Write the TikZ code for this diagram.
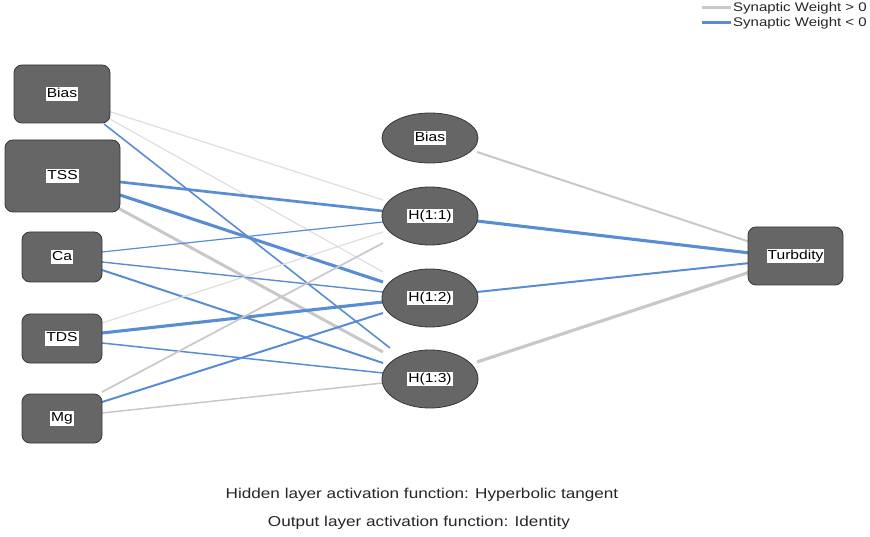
\documentclass[tikz,border=0pt]{standalone}
\usepackage{fontspec}
\setmainfont{Liberation Sans}[FakeStretch=1.2]
\usetikzlibrary{shapes.geometric,calc,backgrounds}
\definecolor{nodefill}{RGB}{102,102,102}
\definecolor{nodeline}{RGB}{55,55,55}
\definecolor{posw}{RGB}{200,200,200}
\definecolor{poswl}{RGB}{222,222,222}
\definecolor{negw}{RGB}{88,140,212}
\newcommand{\wlab}[1]{{\setlength{\fboxsep}{1pt}\colorbox{white}{\vphantom{Hy(}#1}}}
\tikzset{
  inbox/.style={draw=nodeline, fill=nodefill, line width=0.8pt, rounded corners=8pt, inner sep=0pt, font=\fontsize{13}{14}\selectfont},
  hidell/.style={ellipse, draw=nodeline, fill=nodefill, line width=0.8pt, minimum width=96pt, minimum height=58pt, inner sep=0pt, font=\fontsize{13}{14}\selectfont},
  pthin/.style={draw=poswl, line width=1.2pt},
  pmid/.style={draw=posw, line width=1.7pt},
  pthick/.style={draw=posw, line width=3pt},
  nthin/.style={draw=negw, line width=1.2pt},
  nmid/.style={draw=negw, line width=1.9pt},
  nthick/.style={draw=negw, line width=3.1pt},
  txt/.style={font=\fontsize{14.3}{16}\selectfont, text=black!85},
  legtxt/.style={font=\fontsize{12.5}{14}\selectfont, anchor=west, inner sep=0pt, text=black!85}
}
\begin{document}
\begin{tikzpicture}[x=1pt,y=-1pt]
\useasboundingbox (0,0) rectangle (870,537);
% input layer
\node[inbox, minimum width=96pt, minimum height=58pt] (ib) at (62,94) {\wlab{Bias}};
\node[inbox, minimum width=115pt, minimum height=72pt] (it) at (62.5,176) {\wlab{TSS}};
\node[inbox, minimum width=80pt, minimum height=50pt] (ic) at (62,257) {\wlab{Ca}};
\node[inbox, minimum width=80pt, minimum height=49pt] (id) at (62,338.5) {\wlab{TDS}};
\node[inbox, minimum width=80pt, minimum height=49pt] (im) at (62,418.5) {\wlab{Mg}};
% hidden layer
\node[hidell, minimum height=50pt] (hb) at (430,138) {\wlab{Bias}};
\node[hidell] (h1) at (430,216) {\wlab{H(1:1)}};
\node[hidell] (h2) at (430,298) {\wlab{H(1:2)}};
\node[hidell] (h3) at (430,379) {\wlab{H(1:3)}};
% output
\node[inbox, minimum width=95pt, minimum height=58pt] (o) at (795.5,256) {\wlab{Turbdity}};
\begin{pgfonlayer}{background}
% Bias
\draw[pthin] ($(ib)+(46,17)$) -- ($(h1)+(-47,-16)$);
\draw[pthin] ($(ib)+(46,24)$) -- ($(h2)+(-47,-26)$);
\draw[nmid, line width=1.6pt] ($(ib)+(42,30)$) -- ($(h3)+(-40,-31)$);
% TSS
\draw[nthick, line width=2.7pt] ($(it)+(57.5,6)$) -- ($(h1)+(-47,-5)$);
\draw[nthick] ($(it)+(57.5,19)$) -- ($(h2)+(-47,-16)$);
\draw[pthick] ($(it)+(55.5,32)$) -- ($(h3)+(-47,-27)$);
% Ca
\draw[nthin] ($(ic)+(40,-5)$) -- ($(h1)+(-47,6)$);
\draw[nthin, line width=1.4pt] ($(ic)+(40,5)$) -- ($(h2)+(-47,-6)$);
\draw[nmid, line width=2pt] ($(ic)+(40,13)$) -- ($(h3)+(-47,-16)$);
% TDS
\draw[pthin] ($(id)+(40,-15.5)$) -- ($(h1)+(-47,16)$);
\draw[nthick] ($(id)+(40,-5.5)$) -- ($(h2)+(-47,4)$);
\draw[nthin, line width=1.5pt] ($(id)+(40,4.5)$) -- ($(h3)+(-47,-6)$);
% Mg
\draw[pmid] ($(im)+(40,-26.5)$) -- ($(h1)+(-47,27)$);
\draw[nmid, line width=2pt] ($(im)+(40,-16.5)$) -- ($(h2)+(-47,15)$);
\draw[pmid, line width=1.5pt] ($(im)+(40,-5.5)$) -- ($(h3)+(-47,4)$);
% hidden -> output
\draw[pmid, line width=2pt] ($(hb)+(47,14)$) -- ($(o)+(-45.5,-14)$);
\draw[nthick] ($(h1)+(47,5)$) -- ($(o)+(-45.5,-3)$);
\draw[nmid, line width=2pt] ($(h2)+(47,-6)$) -- ($(o)+(-45.5,7)$);
\draw[pthick, line width=3.2pt] ($(h3)+(47,-17)$) -- ($(o)+(-45.5,16)$);
\end{pgfonlayer}
% legend
\coordinate (lg1a) at (702,8);
\coordinate (lg1b) at (731,8);
\coordinate (lg2a) at (702,23);
\coordinate (lg2b) at (731,23);
\draw[posw, line width=3pt] (lg1a) -- (lg1b);
\draw[negw, line width=3pt] (lg2a) -- (lg2b);
\node[legtxt] (lt1) at (733,8) {Synaptic Weight > 0};
\node[legtxt] (lt2) at (733,23) {Synaptic Weight < 0};
% captions
\node[txt] (cap1) at (422,495) {Hidden layer activation function: Hyperbolic tangent};
\node[txt] (cap2) at (419,523) {Output layer activation function: Identity};
\end{tikzpicture}
\end{document}
